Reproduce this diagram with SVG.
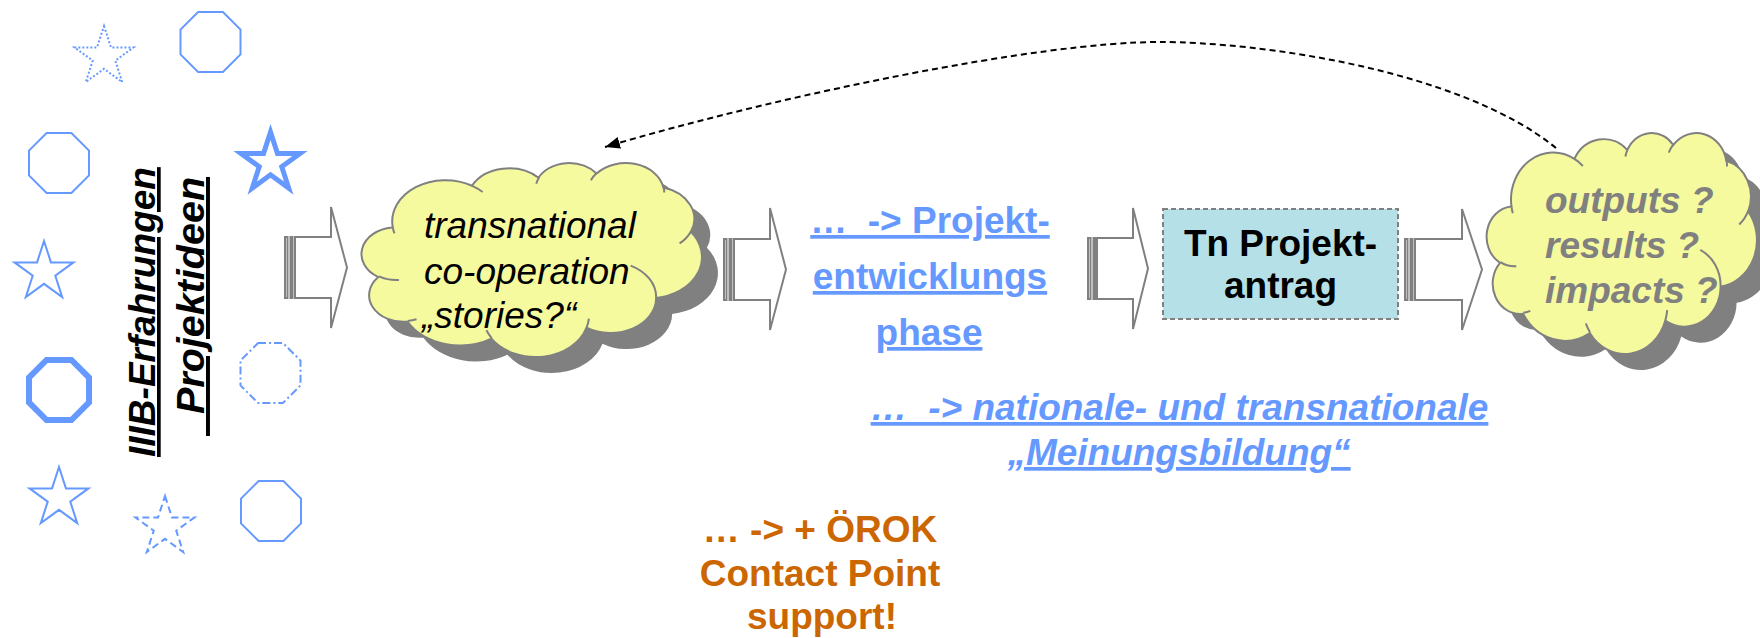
<svg xmlns="http://www.w3.org/2000/svg" width="1760" height="638" viewBox="0 0 1760 638">
<style>
text { font-family: "Liberation Sans", Arial, Helvetica, sans-serif; font-size: 37px; }
.sh { fill: none; stroke: #6699FF; stroke-width: 2; }
.arr { fill: #FFFFFF; stroke: #808080; stroke-width: 2; }
.cl { fill: #F6FA9E; stroke: #808080; stroke-width: 2; }
.cs { fill: #808080; stroke: none; }
.ci { fill: none; stroke: #808080; stroke-width: 2; }
.vt { font-weight: bold; font-style: italic; fill: #000000; text-decoration: underline; }
.blue { font-weight: bold; fill: #6699FF; text-decoration: underline; }
.bluei { font-weight: bold; font-style: italic; fill: #6699FF; text-decoration: underline; }
.orange { font-weight: bold; fill: #CC6600; }
.c1t { font-style: italic; fill: #000000; }
.c2t { font-style: italic; font-weight: bold; fill: #808080; }
.boxt { font-weight: bold; fill: #000000; }
.conn { fill: none; stroke: #000000; stroke-width: 2; stroke-dasharray: 6 4; }
</style>
<defs>
  <polygon id="oct" points="-12.43,-30 12.43,-30 30,-12.43 30,12.43 12.43,30 -12.43,30 -30,12.43 -30,-12.43"/>
  <polygon id="star" points="0,-31 6.96,-9.58 29.48,-9.58 11.26,3.66 18.22,25.08 0,11.84 -18.22,25.08 -11.26,3.66 -29.48,-9.58 -6.96,-9.58"/>
  <path id="cloudPath" vector-effect="non-scaling-stroke" d="M39,143.7 A67.53,91.9 0 0 1 139.75,51.79 A53.33,72.67 0 0 1 224.26,34.09 A43.65,59.45 0 0 1 298.04,24.58 A48.57,65.95 0 0 1 382.89,55.53 A53.33,72.73 0 0 1 417.9,154.37 A67.75,92.2 0 0 1 373.75,301.8 A57.85,78.67 0 0 1 285.26,367.89 A67.52,92.15 0 0 1 164.5,392.4 A77.2,105.43 0 0 1 57.74,354.45 A43.6,59.18 0 0 1 20.83,255.23 A43.45,59.45 0 0 1 38.33,144.79 Z"/>
  <path id="cloudInner" vector-effect="non-scaling-stroke" d="M46.93,261.77 A43.45,59.45 0 0 1 21.6,253.8 M69.28,348.99 A43.6,59.18 0 0 1 58.19,352.81 M164.78,390.9 A67.52,92.15 0 0 1 158.11,373.51 M288.27,347.51 A67.52,92.15 0 0 1 285.6,366.6 M341.29,229.54 A57.85,78.67 0 0 1 373.81,300.9 M417.98,153.54 A53.33,72.73 0 0 1 403.51,180.28 M383.24,54.26 A48.57,65.95 0 0 1 384,66.89 M290.78,39.52 A48.57,65.95 0 0 1 298.2,23.4 M221.41,47.2 A43.65,59.45 0 0 1 225,33.3 M140,51.92 A67.53,91.9 0 0 1 153.3,65.64 M41.27,157.89 A67.53,91.9 0 0 1 39,143.7"/>
  <marker id="ah" markerUnits="userSpaceOnUse" markerWidth="16" markerHeight="14" refX="15" refY="6" orient="auto">
    <path d="M0,0 L15,6 L0,12 Z" fill="#000000"/>
  </marker>
</defs>
<rect x="0" y="0" width="1760" height="638" fill="#FFFFFF"/>

<g id="decor-shapes">
  <use id="star-dotted" href="#star" class="sh" transform="translate(104,57)" style="stroke-dasharray:2 2"/>
  <use id="oct-top" href="#oct" class="sh" transform="translate(210.5,42)"/>
  <use id="oct-left" href="#oct" class="sh" transform="translate(59,163)"/>
  <use id="star-bold" href="#star" class="sh" transform="translate(270.5,163)" style="stroke-width:5"/>
  <use id="star-left" href="#star" class="sh" transform="translate(44,272)"/>
  <use id="oct-thick" href="#oct" class="sh" transform="translate(59,390)" style="stroke-width:6"/>
  <use id="oct-dashdot" href="#oct" class="sh" transform="translate(270.5,373)" style="stroke-dasharray:8 3 2 3"/>
  <use id="star-low" href="#star" class="sh" transform="translate(59,498)"/>
  <use id="star-dashed" href="#star" class="sh" transform="translate(165,527)" style="stroke-dasharray:7 4"/>
  <use id="oct-bottom" href="#oct" class="sh" transform="translate(271,511)"/>
</g>

<g id="label-vertical">
  <text class="vt" transform="translate(155,457) rotate(-90)">IIIB-Erfahrungen</text>
  <text class="vt" transform="translate(204,436) rotate(-90)" style="font-size:39.5px" xml:space="preserve">  Projektideen</text>
</g>

<g id="arrow1" class="arr">
  <rect x="285" y="237" width="2.5" height="61"/>
  <rect x="290.5" y="237" width="2" height="61"/>
  <path d="M295,237 H331 V207 L347,267.5 L331,328 V298 H295 Z"/>
</g>

<g id="cloud1">
  <g transform="translate(378,178.5) scale(0.78704,0.449)"><use href="#cloudPath" class="cs"/></g>
  <g transform="translate(362,162.5) scale(0.78704,0.449)">
    <use href="#cloudPath" class="cl"/>
    <use href="#cloudInner" class="ci"/>
  </g>
  <text class="c1t" x="424" y="238">transnational</text>
  <text class="c1t" x="424" y="284">co-operation</text>
  <text class="c1t" x="422" y="328">„stories?“</text>
</g>

<g id="arrow2" class="arr">
  <rect x="724" y="239" width="2.5" height="61"/>
  <rect x="729.5" y="239" width="2" height="61"/>
  <path d="M734,239 H770 V208 L786,269.5 L770,330 V300 H734 Z"/>
</g>

<g id="phase-text">
  <text class="blue" x="930" y="233" text-anchor="middle" xml:space="preserve">…  -&gt; Projekt-</text>
  <text class="blue" x="930" y="289" text-anchor="middle">entwicklungs</text>
  <text class="blue" x="929" y="345" text-anchor="middle">phase</text>
</g>

<g id="arrow3" class="arr">
  <rect x="1088" y="238" width="2.5" height="61"/>
  <rect x="1093.5" y="238" width="2" height="61"/>
  <path d="M1097,238 H1133 V208 L1148,268.5 L1133,329 V299 H1097 Z"/>
</g>

<g id="box-antrag">
  <rect x="1163" y="209" width="235" height="110" fill="#B6E0E8" stroke="#808080" stroke-width="2" stroke-dasharray="5 3"/>
  <text class="boxt" x="1280.5" y="256" text-anchor="middle">Tn Projekt-</text>
  <text class="boxt" x="1280.5" y="298" text-anchor="middle">antrag</text>
</g>

<g id="arrow4" class="arr">
  <rect x="1405" y="239" width="2.5" height="61"/>
  <rect x="1410.5" y="239" width="2" height="61"/>
  <path d="M1415,239 H1462 V209 L1482,269.5 L1462,330 V300 H1415 Z"/>
</g>

<g id="cloud2">
  <g transform="translate(1503,148.4) scale(0.625,0.5114)"><use href="#cloudPath" class="cs"/></g>
  <g transform="translate(1487,132.4) scale(0.625,0.5114)">
    <use href="#cloudPath" class="cl"/>
    <use href="#cloudInner" class="ci"/>
  </g>
  <text class="c2t" x="1545" y="213">outputs ?</text>
  <text class="c2t" x="1545" y="258">results ?</text>
  <text class="c2t" x="1545" y="303">impacts ?</text>
</g>

<g id="opinion-text">
  <text class="bluei" x="1179.5" y="420" text-anchor="middle" xml:space="preserve">…  -&gt; nationale- und transnationale</text>
  <text class="bluei" x="1179" y="465" text-anchor="middle">„Meinungsbildung“</text>
</g>

<g id="orok-text">
  <text class="orange" x="820" y="542" text-anchor="middle">… -&gt; + ÖROK</text>
  <text class="orange" x="820" y="586" text-anchor="middle">Contact Point</text>
  <text class="orange" x="822" y="629" text-anchor="middle">support!</text>
</g>

<g id="connectors">
  <path class="conn" d="M1556,148 C1460,70 1260,42 1159,42 C1040,42 780,95 605,147" marker-end="url(#ah)"/>
</g>
</svg>
